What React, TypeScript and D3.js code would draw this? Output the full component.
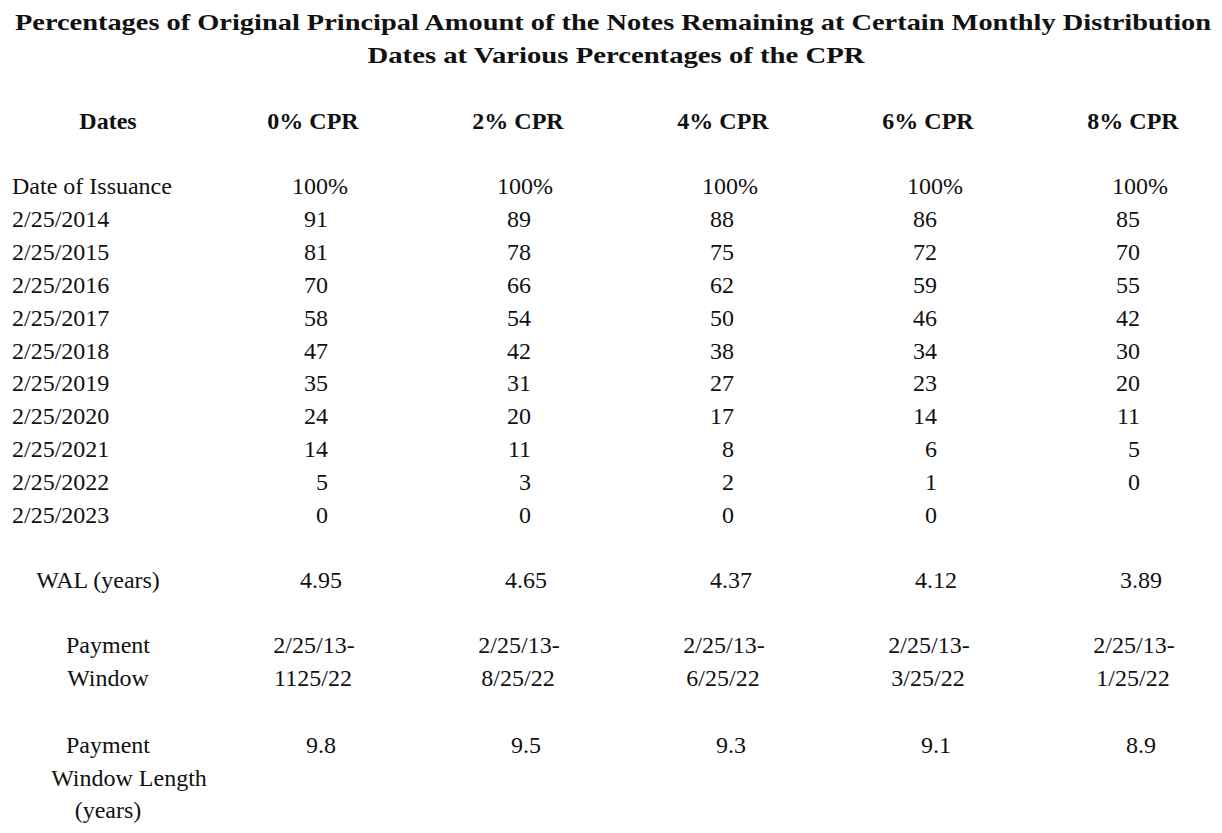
import * as d3 from 'd3';

const title = [
  'Percentages of Original Principal Amount of the Notes Remaining at Certain Monthly Distribution',
  'Dates at Various Percentages of the CPR',
];
const titleWidths = [1196, 497];
const columns = ['0% CPR', '2% CPR', '4% CPR', '6% CPR', '8% CPR'];
const dates = ['Date of Issuance', '2/25/2014', '2/25/2015', '2/25/2016', '2/25/2017', '2/25/2018',
  '2/25/2019', '2/25/2020', '2/25/2021', '2/25/2022', '2/25/2023'];
const cpr0 = ['100%', '91', '81', '70', '58', '47', '35', '24', '14', '5', '0'];
const cpr2 = ['100%', '89', '78', '66', '54', '42', '31', '20', '11', '3', '0'];
const cpr4 = ['100%', '88', '75', '62', '50', '38', '27', '17', '8', '2', '0'];
const cpr6 = ['100%', '86', '72', '59', '46', '34', '23', '14', '6', '1', '0'];
const cpr8 = ['100%', '85', '70', '55', '42', '30', '20', '11', '5', '0', ''];
const series = [cpr0, cpr2, cpr4, cpr6, cpr8];
const wal = ['4.95', '4.65', '4.37', '4.12', '3.89'];
const windowStart = ['2/25/13-', '2/25/13-', '2/25/13-', '2/25/13-', '2/25/13-'];
const windowEnd = ['1125/22', '8/25/22', '6/25/22', '3/25/22', '1/25/22'];
const windowLen = ['9.8', '9.5', '9.3', '9.1', '8.9'];

export default function App() {
  const W = 1222, H = 833;
  const font = "'Liberation Serif', Tinos, 'Times New Roman', 'DejaVu Serif', serif";
  const colCenter = d3.scalePoint<string>().domain(columns).range([313, 1133]);
  const colRight = d3.scalePoint<string>().domain(columns).range([328, 1140]);
  const rowY = d3.scaleLinear().domain([0, dates.length - 1]).range([186, 515]);
  const fs = 24;
  return (
    <svg width={W} height={H} style={{ position: 'absolute', left: 0, top: 0, background: '#fff', fontFamily: font }}
      fontSize={fs} fill="#111">
      {title.map((t, i) => (
        <text key={t} x={W / 2 + (i === 0 ? 2 : 5)} y={30 + i * 33} textAnchor="middle" fontWeight="bold"
          fontSize={23.5} textLength={titleWidths[i]} lengthAdjust="spacingAndGlyphs">{t}</text>
      ))}
      <text x={108} y={129} textAnchor="middle" fontWeight="bold">Dates</text>
      {columns.map((c) => (
        <text key={c} x={colCenter(c)} y={129} textAnchor="middle" fontWeight="bold">{c}</text>
      ))}
      {dates.map((d, r) => (
        <text key={d} x={12} y={rowY(r) + 8}>{d}</text>
      ))}
      {series.map((s, i) => s.map((v, r) => (
        <text key={i + '-' + r} x={r === 0 ? colCenter(columns[i])! + 7 : colRight(columns[i])}
          y={rowY(r) + 8} textAnchor={r === 0 ? 'middle' : 'end'}>{v}</text>
      )))}
      <text x={98} y={588} textAnchor="middle">WAL (years)</text>
      {wal.map((v, i) => <text key={'w' + i} x={colCenter(columns[i])! + 8} y={588} textAnchor="middle">{v}</text>)}
      <text x={108} y={653} textAnchor="middle">Payment</text>
      <text x={108} y={686} textAnchor="middle">Window</text>
      {windowStart.map((v, i) => <text key={'s' + i} x={colCenter(columns[i])! + 1} y={653} textAnchor="middle">{v}</text>)}
      {windowEnd.map((v, i) => <text key={'e' + i} x={colCenter(columns[i])} y={686} textAnchor="middle">{v}</text>)}
      <text x={108} y={753} textAnchor="middle">Payment</text>
      <text x={129} y={786} textAnchor="middle">Window Length</text>
      <text x={108} y={818} textAnchor="middle">(years)</text>
      {windowLen.map((v, i) => <text key={'l' + i} x={colCenter(columns[i])! + 8} y={753} textAnchor="middle">{v}</text>)}
    </svg>
  );
}
